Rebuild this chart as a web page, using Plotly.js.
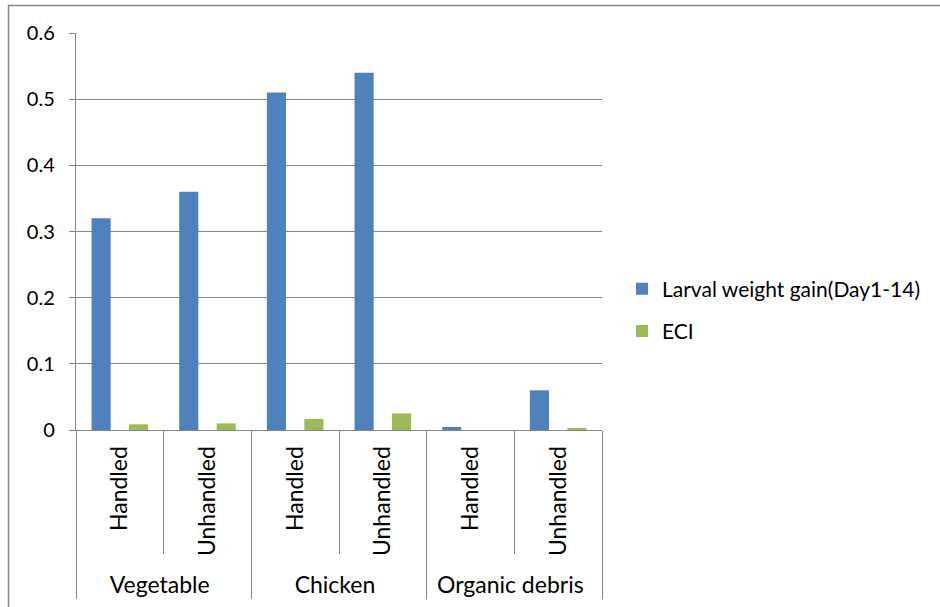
<!DOCTYPE html>
<html>
<head>
<meta charset="utf-8">
<script src="https://cdn.plot.ly/plotly-3.0.1.min.js"></script>
<style>
html,body{margin:0;padding:0;background:#fff;}
#chart{width:940px;height:607px;}
</style>
</head>
<body>
<div id="chart"></div>
<script>
var groups = ["Vegetable","Vegetable","Chicken","Chicken","Organic debris","Organic debris"];
var conditions = ["Handled","Unhandled","Handled","Unhandled","Handled","Unhandled"];
var weightGain = [0.32, 0.36, 0.51, 0.54, 0.0045, 0.06];
var eci = [0.0086, 0.010, 0.0166, 0.025, 0.0, 0.003];
var seriesNames = ["Larval weight gain(Day1-14)", "ECI"];

var font = "Lato, 'Open Sans', sans-serif";
var grey = "#868686";

var traces = [
  {type:"bar", name:seriesNames[0], x:[groups, conditions], y:weightGain,
   marker:{color:"#4F81BD"}, legendgroup:"a"},
  {type:"bar", name:seriesNames[1], x:[groups, conditions], y:eci,
   marker:{color:"#9BBB59"}, legendgroup:"b"}
];

var W = 526, H = 397;
var layout = {
  width:940, height:607,
  margin:{l:76, r:338, t:33, b:177, pad:0},
  paper_bgcolor:"#fff", plot_bgcolor:"#fff",
  barmode:"group", bargap:0.145, bargroupgap:0.49,
  font:{family:font, size:20, color:"#000"},
  showlegend:true,
  legend:{x:(622-76)/W, y:(430-310)/H, xanchor:"left", yanchor:"middle", tracegroupgap:12,
          font:{family:font, size:21, color:"#000"}, bgcolor:"rgba(0,0,0,0)"},
  xaxis:{type:"multicategory", automargin:false, showline:true, linecolor:grey, linewidth:1,
         ticks:"outside", tickson:"boundaries", ticklen:123, tickcolor:grey,
         tickangle:-90, showdividers:true, dividercolor:grey, dividerwidth:1,
         ticklabelstandoff:6,
         tickfont:{family:font, size:23, color:"#000"}, showgrid:false},
  yaxis:{range:[0,0.6], dtick:0.1, tick0:0, automargin:false, showline:true, linecolor:grey,
         ticks:"outside", ticklen:6, tickcolor:grey, showgrid:true, gridcolor:grey, gridwidth:1,
         zeroline:false, tickfont:{family:font, size:20, color:"#000"}, ticksuffix:"  "},
  shapes:[
    {type:"line", xref:"paper", yref:"paper", x0:(8-76)/W, x1:(940-76)/W, y0:(430-5.5)/H, y1:(430-5.5)/H,
     line:{color:grey, width:1.5}},
    {type:"line", xref:"paper", yref:"paper", x0:(8.5-76)/W, x1:(8.5-76)/W, y0:(430-5)/H, y1:(430-607)/H,
     line:{color:grey, width:1.5}}
  ]
};

Plotly.newPlot("chart", traces, layout, {displayModeBar:false, staticPlot:true});
</script>
</body>
</html>
